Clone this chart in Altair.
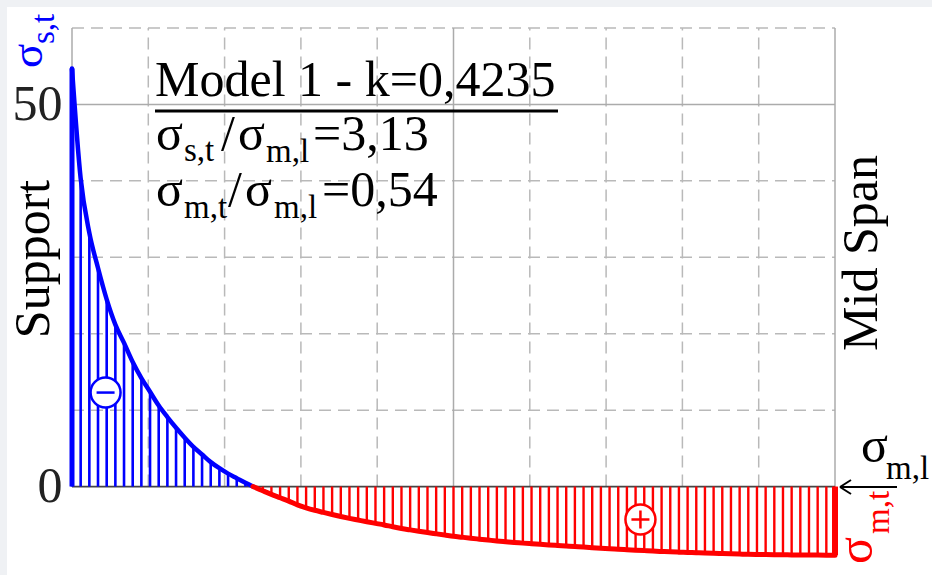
import altair as alt
import pandas as pd

# ---------------- data ----------------
# stress at equally spaced hatch stations from support (0) to mid span (1)
blue_values = [54.7, 40.3, 33.2, 28.6, 24.5, 21.2, 18.8, 16.3, 14.2, 12.4, 10.6,
               9.1, 7.7, 6.4, 5.2, 4.2, 3.2, 2.4, 1.7, 1.1, 0.5]
red_values = [-0.07, -0.55, -1.02, -1.46, -1.9, -2.4, -2.78, -3.1, -3.38, -3.66,
              -3.92, -4.16, -4.38, -4.6, -4.81, -5.02, -5.26, -5.48, -5.67, -5.85,
              -6.02, -6.18, -6.34, -6.5, -6.63, -6.76, -6.88, -7.0, -7.12, -7.22,
              -7.32, -7.4, -7.48, -7.56, -7.63, -7.7, -7.77, -7.84, -7.92, -7.99,
              -8.06, -8.13, -8.2, -8.26, -8.32, -8.38, -8.44, -8.49, -8.54, -8.58,
              -8.62, -8.66, -8.7, -8.74, -8.77, -8.8, -8.83, -8.86, -8.88, -8.9,
              -8.92, -8.93, -8.94, -8.95, -8.96, -8.96, -8.97, -8.97]
zero_crossing = 0.2372

y_minor = [10, 20, 30, 40, 60]
y_major = [50]
x_minor = [0.1, 0.2, 0.3, 0.4, 0.6, 0.7, 0.8, 0.9]
x_major = [0.0, 0.5, 1.0]
y_tick_values = [0, 50]

sign_x = [0.044, 0.745]
sign_y = [12.3, -4.3]

title_text = "Model 1 - k=0,4235"
ratio1_parts = ["σ", "s,t", "/", "σ", "m,l", "=3,13"]
ratio2_parts = ["σ", "m,t", "/", "σ", "m,l", "=0,54"]

# ---------------- layout ----------------
PL, PT, PR, PB = 72, 28, 97, 12
W, H = 763, 535
SERIF = "Liberation Serif"
BLUE = "#0000ff"
RED = "#ff0000"
BIG, SMALL = 50, 33

values = blue_values + red_values
n = len(values)
st = pd.DataFrame({"x": [i / (n - 1) for i in range(n)], "v": values})
blue_st = st[st.v >= 0]
red_st = st[st.v < 0]
cross = pd.DataFrame({"x": [zero_crossing], "v": [0.0]})
blue_curve = pd.concat([blue_st, cross], ignore_index=True)
red_curve = pd.concat([cross, red_st], ignore_index=True)

xs = alt.Scale(domain=[0, 1])
ys = alt.Scale(domain=[-10, 60])
y_axis = alt.Axis(values=y_tick_values, ticks=False, domain=False, grid=False,
                  labelFont=SERIF, labelFontSize=50, labelColor="#222",
                  labelPadding=10, title="", zindex=2)


def X(f="x:Q"):
    return alt.X(f, scale=xs, axis=None)


def Y(f="v:Q"):
    return alt.Y(f, scale=ys, axis=y_axis)


one = pd.DataFrame({"a": [0]})


def px(x, y):
    return dict(x=alt.value(x - PL), y=alt.value(y - PT))


def txt(s, x, y, size, color="black", angle=0, align="left"):
    kw = dict(text=s, font=SERIF, fontSize=size, color=color, align=align,
              baseline="alphabetic")
    if angle:
        kw["angle"] = angle
    return alt.Chart(one).mark_text(**kw).encode(**px(x, y))


def seg(x1, y1, x2, y2, width, color="black"):
    return alt.Chart(one).mark_rule(color=color, strokeWidth=width).encode(
        x=alt.value(x1 - PL), x2=alt.value(x2 - PL),
        y=alt.value(y1 - PT), y2=alt.value(y2 - PT))


layers = []
# white page with thin grey frame at top/left
layers.append(alt.Chart(one).mark_rect(color="white").encode(
    x=alt.value(7 - PL), x2=alt.value(932 - PL),
    y=alt.value(7 - PT), y2=alt.value(575 - PT)))

# grid
layers.append(alt.Chart(pd.DataFrame({"x": x_minor})).mark_rule(
    color="#b9b9b9", strokeWidth=1.5, strokeDash=[12, 7]).encode(
    x=X(), y=alt.Y(datum=0, scale=ys, axis=y_axis), y2=alt.Y2(datum=60)))
layers.append(alt.Chart(pd.DataFrame({"v": y_minor})).mark_rule(
    color="#b9b9b9", strokeWidth=1.5, strokeDash=[12, 7]).encode(
    y=Y(), x=alt.value(0), x2=alt.value(W)))
layers.append(alt.Chart(pd.DataFrame({"x": x_major})).mark_rule(
    color="#ababab", strokeWidth=1.5).encode(
    x=X(), y=alt.Y(datum=0, scale=ys, axis=y_axis), y2=alt.Y2(datum=60)))
layers.append(alt.Chart(pd.DataFrame({"v": y_major})).mark_rule(
    color="#ababab", strokeWidth=1.5).encode(
    y=Y(), x=alt.value(0), x2=alt.value(W)))
# zero line
layers.append(alt.Chart(pd.DataFrame({"v": [0]})).mark_rule(
    color="#444444", strokeWidth=1.8).encode(
    y=Y(), x=alt.value(0), x2=alt.value(W)))

# hatch
layers.append(alt.Chart(blue_st).mark_rule(color=BLUE, strokeWidth=2.6).encode(
    x=X(), y=Y(), y2=alt.Y2(datum=0)))
layers.append(alt.Chart(red_st).mark_rule(color=RED, strokeWidth=2.4).encode(
    x=X(), y=Y(), y2=alt.Y2(datum=0)))
layers.append(alt.Chart(st.iloc[[0]]).mark_rule(color=BLUE, strokeWidth=5).encode(
    x=X(), y=Y(), y2=alt.Y2(datum=0)))
layers.append(alt.Chart(st.iloc[[n - 1]]).mark_rule(color=RED, strokeWidth=6).encode(
    x=X(), y=Y(), y2=alt.Y2(datum=0)))

# curves
layers.append(alt.Chart(blue_curve).mark_line(
    color=BLUE, strokeWidth=4.5, interpolate="monotone", strokeCap="round").encode(x=X(), y=Y()))
layers.append(alt.Chart(red_curve).mark_line(
    color=RED, strokeWidth=5, interpolate="monotone", strokeCap="round").encode(x=X(), y=Y()))

# sign markers
signs = pd.DataFrame({"x": sign_x, "v": sign_y})
layers.append(alt.Chart(signs.iloc[[0]]).mark_point(
    shape="circle", size=900, filled=True, fill="white", stroke=BLUE,
    strokeWidth=2.5, opacity=1).encode(x=X(), y=Y()))
layers.append(alt.Chart(signs.iloc[[0]]).mark_point(
    shape="M-1,0L1,0", size=324, filled=False, stroke=BLUE,
    strokeWidth=2.5, opacity=1).encode(x=X(), y=Y()))
layers.append(alt.Chart(signs.iloc[[1]]).mark_point(
    shape="circle", size=900, filled=True, fill="white", stroke=RED,
    strokeWidth=2.5, opacity=1).encode(x=X(), y=Y()))
layers.append(alt.Chart(signs.iloc[[1]]).mark_point(
    shape="M-1,0L1,0M0,-1L0,1", size=324, filled=False, stroke=RED,
    strokeWidth=2.5, opacity=1).encode(x=X(), y=Y()))

# annotation box text
layers.append(txt(title_text, 155, 96, BIG))
layers.append(seg(155, 111, 558, 111, 3))
r1_pos = [(156, 150, BIG), (184, 161, SMALL), (221, 150, BIG), (238, 150, BIG),
          (266, 162, SMALL), (313, 150, BIG)]
for s, (x, y, fs) in zip(ratio1_parts, r1_pos):
    layers.append(txt(s, x, y, fs))
r2_pos = [(156, 206, BIG), (184, 218, SMALL), (228, 206, BIG), (245, 206, BIG),
          (274, 218, SMALL), (322, 206, BIG)]
for s, (x, y, fs) in zip(ratio2_parts, r2_pos):
    layers.append(txt(s, x, y, fs))

# side labels
layers.append(txt("Support", 49, 259, BIG, angle=270, align="center"))
layers.append(txt("Mid Span", 877, 253, BIG, angle=270, align="center"))
layers.append(txt("σ", 42, 68, 45, color=BLUE, angle=270))
layers.append(txt("s,t", 54, 44, SMALL, color=BLUE, angle=270))
layers.append(txt("σ", 872, 564, BIG, color=RED, angle=270))
layers.append(txt("m,t", 889, 534, SMALL, color=RED, angle=270))
layers.append(txt("σ", 861, 462, BIG))
layers.append(txt("m,l", 886, 479, SMALL))

# arrow to sigma_m,l
layers.append(seg(840, 487, 897, 487, 2))
layers.append(seg(840, 487, 851, 480, 2))
layers.append(seg(840, 487, 851, 494, 2))

chart = alt.layer(*layers).properties(
    width=W, height=H,
    padding={"left": PL, "top": PT, "right": PR, "bottom": PB},
    autosize=alt.AutoSizeParams(type="none"),
    background="#eff1f4",
).configure_view(strokeWidth=0)

chart.save("out.html", embed_options={"renderer": "svg", "actions": False})
